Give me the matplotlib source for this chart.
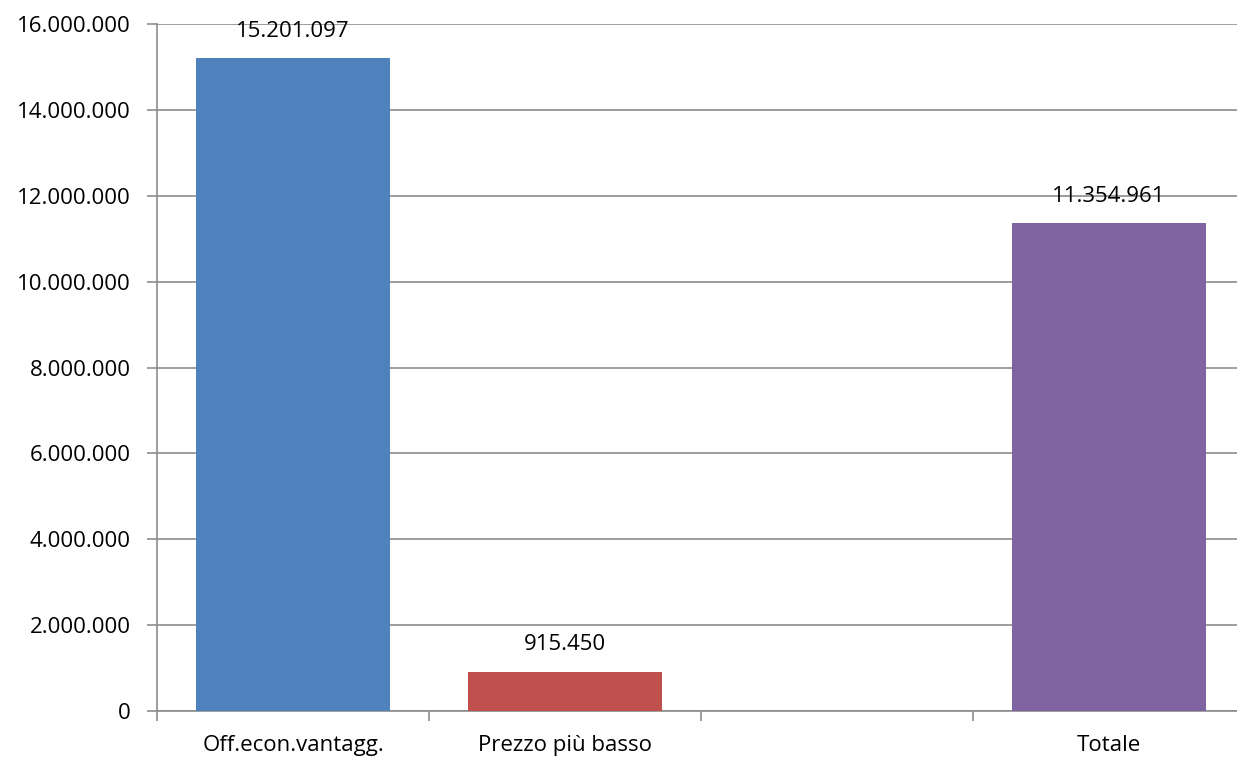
import numpy as np
import matplotlib.pyplot as plt
from matplotlib.ticker import FuncFormatter

categories = ["Off.econ.vantagg.", "Prezzo più basso", "", "Totale"]
values = [15201097, 915450, np.nan, 11354961]
colors = ["#4F81BD", "#C0504D", "#9BBB59", "#8064A2"]

plt.rcParams['font.family'] = ['Open Sans', 'DejaVu Sans']


def dotted(v, pos=None):
    return "{:,.0f}".format(v).replace(",", ".")


fig = plt.figure(figsize=(12.37, 7.58), dpi=100)
ax = fig.add_axes([157 / 1237, 1 - 711 / 758, 1088 / 1237, (711 - 24) / 758])

x = np.arange(len(categories))
ax.bar(x, values, width=0.715, color=colors, zorder=3)

for xi, v in zip(x, values):
    if not np.isnan(v):
        ax.annotate(dotted(v), (xi, v), xytext=(0, 12), textcoords="offset points",
                    ha="center", va="bottom", fontsize=16, color="black")

ax.set_xlim(-0.5, len(categories) - 0.5)
ax.set_ylim(0, 16000000)
ax.set_yticks(np.arange(0, 16000001, 2000000))
ax.yaxis.set_major_formatter(FuncFormatter(dotted))

# category labels centered, ticks between categories
ax.set_xticks(x)
ax.set_xticklabels(categories, fontsize=16)
ax.tick_params(axis="x", which="major", length=0, pad=17)
ax.set_xticks(np.arange(-0.5, len(categories), 1.0), minor=True)
ax.tick_params(axis="x", which="minor", length=7, color="#8c8c8c", width=1.2)
ax.tick_params(axis="y", length=7, color="#8c8c8c", width=1.2, labelsize=16, pad=12)

ax.grid(axis="y", color="#8c8c8c", linewidth=1.2, zorder=0)
for s in ["top", "right"]:
    ax.spines[s].set_visible(False)
for s in ["left", "bottom"]:
    ax.spines[s].set_color("#8c8c8c")
    ax.spines[s].set_linewidth(1.2)

fig.savefig("out.png", dpi=100)
